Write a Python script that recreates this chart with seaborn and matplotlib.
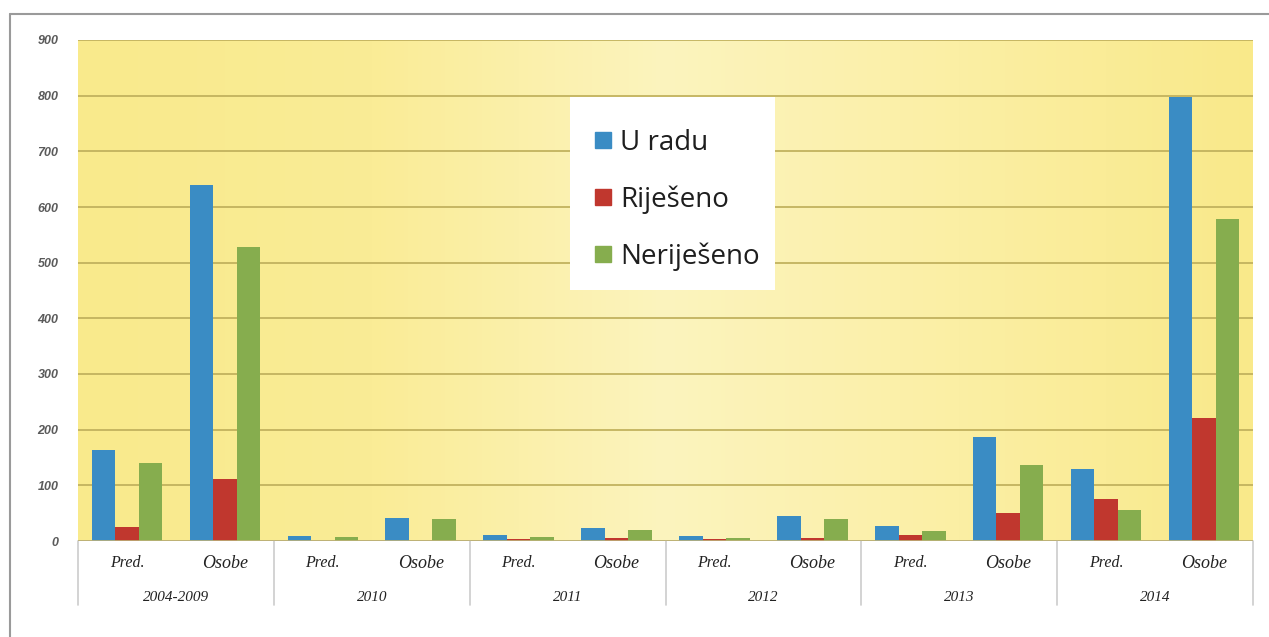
import numpy as np
import pandas as pd
import matplotlib
matplotlib.use("Agg")
import matplotlib.pyplot as plt
from matplotlib.colors import LinearSegmentedColormap
from matplotlib.lines import Line2D
from matplotlib.patches import Rectangle
import seaborn as sns

# ---- data ----
years = ["2004-2009", "2010", "2011", "2012", "2013", "2014"]
subgroups = ["Pred.", "Osobe"]
series = ["U radu", "Riješeno", "Neriješeno"]
u_radu = [164, 640, 9, 41, 11, 24, 9, 45, 27, 187, 129, 798]
rijeseno = [25, 111, 0, 0, 4, 5, 3, 6, 10, 50, 75, 221]
nerijeseno = [140, 529, 7, 40, 7, 19, 6, 39, 18, 137, 56, 578]
y_ticks = [0, 100, 200, 300, 400, 500, 600, 700, 800, 900]

colors = ["#3A8CC4", "#C0372E", "#86AD4E"]

cats = [f"{y}|{s}" for y in years for s in subgroups]
rows = []
for name, vals in zip(series, [u_radu, rijeseno, nerijeseno]):
    for c, v in zip(cats, vals):
        rows.append({"cat": c, "serija": name, "val": v})
df = pd.DataFrame(rows)

sns.set_theme(style="white")
plt.rcParams['font.family'] = ['DejaVu Sans']

W, H = 1269, 637
fig = plt.figure(figsize=(W / 100, H / 100), dpi=100)
fig.patch.set_facecolor("white")
L, R, B, T = 78 / W, 1253 / W, 1 - 541 / H, 1 - 40 / H
ax = fig.add_axes([L, B, R - L, T - B])

# background gradient
grad = LinearSegmentedColormap.from_list(
    "bg", ["#F9EA8C", "#FAEC96", "#FCF4BE", "#FBEFA4", "#F9E98A"])
ax.imshow(np.linspace(0, 1, 256)[None, :], cmap=grad, aspect="auto",
          extent=[0, 1, 0, 1], transform=ax.transAxes, zorder=0)

sns.barplot(data=df, x="cat", y="val", hue="serija", order=cats,
            hue_order=series, palette=colors, width=0.72, saturation=1,
            linewidth=0, edgecolor="none", ax=ax, legend=True, zorder=2)

ax.set_xlim(-0.5, len(cats) - 0.5)
ax.set_ylim(0, 900)
ax.set_yticks(y_ticks)
ax.set_yticklabels([str(t) for t in y_ticks], fontstyle="italic",
                   fontweight="bold", fontsize=9, color="#5A5A5A",
                   family="Liberation Sans")
ax.tick_params(axis="y", length=0, pad=14)
ax.set_xticks([])
ax.set_xlabel("")
ax.set_ylabel("")
for sp in ax.spines.values():
    sp.set_visible(False)
ax.yaxis.grid(True, color="#C2B25E", linewidth=1.3, zorder=1)
ax.set_axisbelow(True)
ax.axhline(0, color="#BDB27A", linewidth=1.2, zorder=3)

# two-level category axis
tr = ax.get_xaxis_transform()
for i, c in enumerate(cats):
    sub = c.split("|")[1]
    ax.text(i, -0.044, sub, transform=tr, ha="center", va="center",
            fontstyle="italic", family="Liberation Serif",
            fontsize=13 if sub == "Osobe" else 11.5, color="#222222",
            clip_on=False)
for g, yname in enumerate(years):
    ax.text(2 * g + 0.5, -0.112, yname, transform=tr, ha="center",
            va="center", fontstyle="italic", family="Liberation Serif",
            fontsize=11, color="#222222", clip_on=False)
for g in range(len(years) + 1):
    ax.add_line(Line2D([2 * g - 0.5, 2 * g - 0.5], [0, -0.128], transform=tr,
                       color="#CCCCCC", linewidth=1.2, clip_on=False))

# legend (white box + frameless legend)
if ax.legend_:
    ax.legend_.remove()
fig.add_artist(Rectangle((570 / W, 1 - 290 / H), 205 / W, 193 / H,
                         transform=fig.transFigure, facecolor="white",
                         edgecolor="none", zorder=4))
handles = [Line2D([], [], marker="s", linestyle="none", markersize=11,
                  markerfacecolor=col, markeredgecolor=col) for col in colors]
leg = fig.legend(handles, series, loc="upper left",
                 bbox_to_anchor=(594 / W, 1 - 129 / H),
                 frameon=False,
                 prop={"family": "Open Sans", "size": 20},
                 labelspacing=1.02, handlelength=0.65, handletextpad=0.3,
                 borderpad=0, borderaxespad=0)
leg.set_zorder(5)
for t in leg.get_texts():
    t.set_color("#1E1E1E")

# outer frame lines
fig.add_artist(Line2D([10 / W, 1], [1 - 14 / H, 1 - 14 / H],
                      transform=fig.transFigure, color="#9A9A9A", linewidth=1.5))
fig.add_artist(Line2D([10 / W, 10 / W], [0, 1 - 14 / H],
                      transform=fig.transFigure, color="#9A9A9A", linewidth=1.5))

fig.savefig("out.png", dpi=100)
